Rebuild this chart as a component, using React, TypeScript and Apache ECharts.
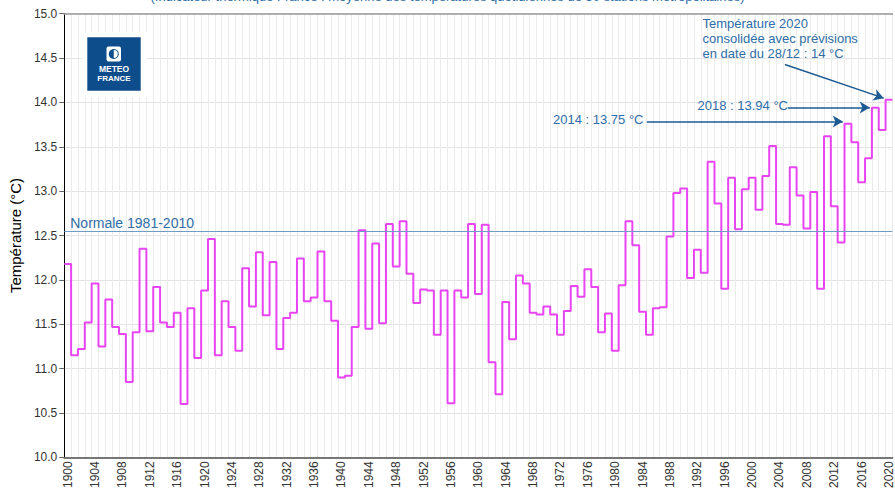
import React, { useEffect, useRef } from "react";
import * as echarts from "echarts";

const years: number[] = [];
for (let y = 1900; y <= 2020; y++) years.push(y);

const temps: number[] = [
  12.18, 11.15, 11.22, 11.52, 11.96, 11.25, 11.78, 11.47, 11.39, 10.85,
  11.41, 12.35, 11.42, 11.92, 11.52, 11.47, 11.63, 10.60, 11.68, 11.12,
  11.88, 12.46, 11.15, 11.76, 11.47, 11.20, 12.13, 11.70, 12.31, 11.60,
  12.20, 11.22, 11.57, 11.63, 12.24, 11.76, 11.80, 12.32, 11.76, 11.54,
  10.90, 10.92, 11.47, 12.56, 11.45, 12.41, 11.51, 12.63, 12.15, 12.66,
  12.07, 11.74, 11.89, 11.88, 11.38, 11.88, 10.61, 11.88, 11.80, 12.63,
  11.84, 12.62, 11.07, 10.71, 11.75, 11.33, 12.05, 11.96, 11.63, 11.61,
  11.70, 11.61, 11.38, 11.65, 11.93, 11.81, 12.12, 11.92, 11.41, 11.62,
  11.20, 11.94, 12.66, 12.39, 11.64, 11.38, 11.68, 11.69, 12.49, 12.98,
  13.03, 12.02, 12.34, 12.08, 13.33, 12.86, 11.90, 13.15, 12.57, 13.02,
  13.15, 12.79, 13.17, 13.51, 12.63, 12.62, 13.27, 12.95, 12.58, 12.99,
  11.90, 13.62, 12.83, 12.42, 13.76, 13.55, 13.10, 13.37, 13.94, 13.69,
  14.03,
];

const normale = 12.55;
const normaleLabel = "Normale 1981-2010";
const yTicks = { min: 10, max: 15, interval: 0.5 };
const titleText =
  "(Indicateur thermique France : moyenne des températures quotidiennes de 30 stations métropolitaines)";
const yName = "Température (°C)";
const ann2014 = "2014 : 13.75 °C";
const ann2018 = "2018 : 13.94 °C";
const ann2020 = ["Température 2020", "consolidée avec prévisions", "en date du 28/12 : 14 °C"];

const FONT = "'Liberation Sans', Arial, sans-serif";
const BLUE_TXT = "#2f6ea8";
const BLUE_ARROW = "#1d5a92";
const LOGO_BLUE = "#0d4d8c";

export default function App() {
  const ref = useRef<HTMLDivElement>(null);
  useEffect(() => {
    if (!ref.current) return;
    const chart = echarts.init(ref.current, null, { renderer: "svg" });
    const stepData = years.map((y, i) => [y, temps[i]]);
    stepData.push([years[years.length - 1] + 1, temps[temps.length - 1]]);

    const arrowStyle = { color: BLUE_ARROW, width: 1.5, type: "solid" as const };

    chart.setOption({
      animation: false,
      textStyle: { fontFamily: FONT },
      grid: { left: 63, right: 2, top: 13.7, bottom: 29.3, containLabel: false },
      xAxis: [
        {
          type: "category",
          data: years.map(String),
          boundaryGap: true,
          axisLine: { show: true, lineStyle: { color: "#777", width: 2 } },
          axisTick: { show: false },
          axisLabel: {
            interval: 3,
            rotate: 90,
            fontSize: 12,
            color: "#333",
            margin: 4,
            fontFamily: FONT,
          },
          splitLine: { show: true, interval: 0, lineStyle: { color: "#ebebeb", width: 1 } },
        },
        {
          type: "value",
          min: years[0],
          max: years[years.length - 1] + 1,
          position: "top",
          axisLine: { show: true, onZero: false, lineStyle: { color: "#999", width: 1.5 } },
          axisTick: { show: false },
          axisLabel: { show: false },
          splitLine: { show: false },
        },
      ],
      yAxis: {
        type: "value",
        min: yTicks.min,
        max: yTicks.max,
        interval: yTicks.interval,
        name: yName,
        nameLocation: "middle",
        nameGap: 34,
        nameTextStyle: { fontSize: 15, color: "#000", fontFamily: FONT },
        axisLine: { show: true, lineStyle: { color: "#000", width: 1 } },
        axisTick: { show: true, length: 5, lineStyle: { color: "#666" } },
        axisLabel: {
          fontSize: 12,
          color: "#333",
          margin: 7,
          fontFamily: FONT,
          formatter: (v: number) => v.toFixed(1),
        },
        splitLine: { show: true, lineStyle: { color: "#e3e3e3", width: 1 } },
      },
      series: [
        {
          type: "line",
          xAxisIndex: 1,
          step: "end",
          data: stepData,
          showSymbol: false,
          symbol: "none",
          lineStyle: { color: "#e845f2", width: 2 },
          z: 3,
          markLine: {
            silent: true,
            symbol: ["none", "arrow"],
            symbolSize: [9, 10],
            data: [
              [
                {
                  coord: [years[0], normale],
                  symbol: "none",
                  lineStyle: { color: "#6f9cc4", width: 1, type: "solid" },
                  label: {
                    show: true,
                    position: "insideStartTop",
                    formatter: normaleLabel,
                    color: BLUE_TXT,
                    fontSize: 14,
                    fontFamily: FONT,
                    distance: [6, 1],
                  },
                },
                { coord: [years[years.length - 1] + 1, normale], symbol: "none" },
              ],
              [
                { coord: [1985.12, 13.785], symbol: "none", lineStyle: arrowStyle, label: { show: false } },
                { coord: [2013.75, 13.785], symbol: "arrow" },
              ],
              [
                { coord: [2005.73, 13.944], symbol: "none", lineStyle: arrowStyle, label: { show: false } },
                { coord: [2017.69, 13.944], symbol: "arrow" },
              ],
              [
                { coord: [2005.29, 14.427], symbol: "none", lineStyle: arrowStyle, label: { show: false } },
                { coord: [2019.73, 14.048], symbol: "arrow" },
              ],
            ],
          },
        },
      ],
      graphic: [
        {
          type: "text",
          left: "center",
          top: -10,
          style: {
            text: titleText,
            fill: BLUE_TXT,
            fontSize: 13,
            fontFamily: FONT,
          },
          z: 10,
        },
        {
          type: "text",
          x: 553,
          y: 119,
          style: {
            text: ann2014,
            fill: BLUE_TXT,
            fontSize: 13,
            fontFamily: FONT,
            textVerticalAlign: "middle",
          },
          z: 10,
        },
        {
          type: "text",
          x: 697.5,
          y: 105,
          style: {
            text: ann2018,
            fill: BLUE_TXT,
            fontSize: 13,
            fontFamily: FONT,
            textVerticalAlign: "middle",
          },
          z: 10,
        },
        {
          type: "text",
          x: 702.5,
          y: 16.5,
          style: {
            text: ann2020.join("\n"),
            fill: BLUE_TXT,
            fontSize: 13,
            lineHeight: 14.6,
            fontFamily: FONT,
          },
          z: 10,
        },
        { type: "rect", z: 100, shape: { x: 82, y: 32, width: 65, height: 65 }, style: { fill: "#fff" } },
        { type: "rect", z: 101, shape: { x: 87.3, y: 37.3, width: 53.4, height: 53.4 }, style: { fill: LOGO_BLUE } },
        { type: "rect", z: 102, shape: { x: 106.5, y: 46.5, width: 14.5, height: 15, r: 2 }, style: { fill: "#fff" } },
        { type: "circle", z: 103, shape: { cx: 113.75, cy: 54, r: 5 }, style: { fill: LOGO_BLUE } },
        {
          type: "sector",
          z: 104,
          shape: { cx: 113.75, cy: 54, r: 4, r0: 0, startAngle: -Math.PI / 2, endAngle: Math.PI / 2 },
          style: { fill: "#fff" },
        },
        {
          type: "text",
          z: 104,
          x: 114,
          y: 68.5,
          style: {
            text: "METEO",
            fill: "#fff",
            fontSize: 8.5,
            fontWeight: "bold",
            fontFamily: FONT,
            textAlign: "center",
            textVerticalAlign: "middle",
          },
        },
        {
          type: "text",
          z: 104,
          x: 114,
          y: 78,
          style: {
            text: "FRANCE",
            fill: "#fff",
            fontSize: 8,
            fontWeight: "bold",
            fontFamily: FONT,
            textAlign: "center",
            textVerticalAlign: "middle",
          },
        },
      ],
    });
    return () => chart.dispose();
  }, []);

  return (
    <div
      ref={ref}
      style={{ position: "fixed", left: 0, top: 0, width: 895, height: 491, background: "#fff" }}
    />
  );
}
